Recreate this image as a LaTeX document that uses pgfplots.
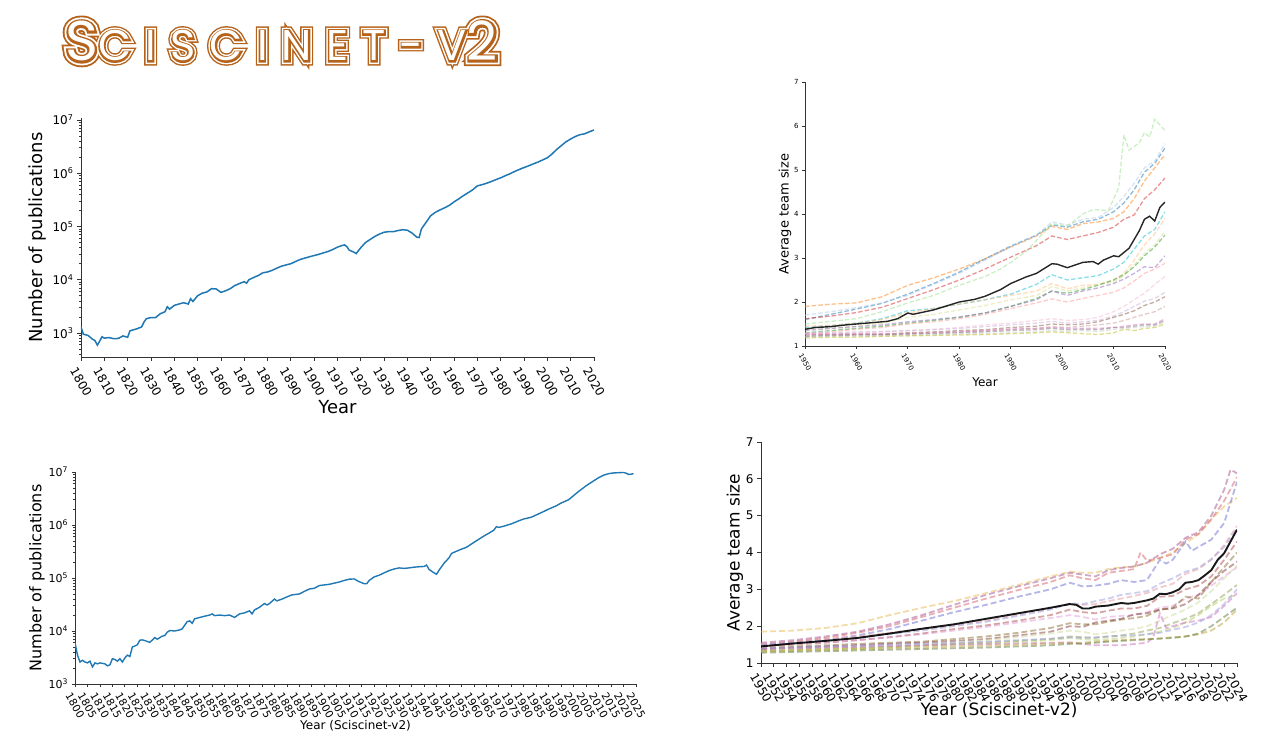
\documentclass[border=0pt]{standalone}
\usepackage{fontspec}
\setmainfont{DejaVu Sans}
\newfontfamily\tfA[FakeBold=21,LetterSpace=33]{Poppins}
\newfontfamily\tfB[FakeBold=14.5,LetterSpace=33]{Poppins}
\newfontfamily\tfC[FakeBold=8,LetterSpace=33]{Poppins}
\newfontfamily\tfD[LetterSpace=33]{Poppins}
\usepackage{pgfplots}
\pgfplotsset{compat=1.18}

\definecolor{tbrown}{HTML}{B5621A}
\definecolor{mplblue}{HTML}{1F77B4}
% tab20
\definecolor{tA}{HTML}{1F77B4}\definecolor{tB}{HTML}{AEC7E8}
\definecolor{tC}{HTML}{FF7F0E}\definecolor{tD}{HTML}{FFBB78}
\definecolor{tE}{HTML}{2CA02C}\definecolor{tF}{HTML}{98DF8A}
\definecolor{tG}{HTML}{D62728}\definecolor{tH}{HTML}{FF9896}
\definecolor{tI}{HTML}{9467BD}\definecolor{tJ}{HTML}{C5B0D5}
\definecolor{tK}{HTML}{8C564B}\definecolor{tL}{HTML}{C49C94}
\definecolor{tM}{HTML}{E377C2}\definecolor{tN}{HTML}{F7B6D2}
\definecolor{tO}{HTML}{7F7F7F}\definecolor{tP}{HTML}{C7C7C7}
\definecolor{tQ}{HTML}{BCBD22}\definecolor{tR}{HTML}{DBDB8D}
\definecolor{tS}{HTML}{17BECF}\definecolor{tT}{HTML}{9EDAE5}
% tab20b
\definecolor{bA}{HTML}{5254A3}\definecolor{bB}{HTML}{6B6ECF}\definecolor{bC}{HTML}{9C9EDE}
\definecolor{bD}{HTML}{637939}\definecolor{bE}{HTML}{8CA252}\definecolor{bF}{HTML}{B5CF6B}\definecolor{bG}{HTML}{CEDB9C}
\definecolor{bH}{HTML}{8C6D31}\definecolor{bI}{HTML}{BD9E39}\definecolor{bJ}{HTML}{E7BA52}
\definecolor{bK}{HTML}{843C39}\definecolor{bL}{HTML}{AD494A}\definecolor{bM}{HTML}{D6616B}\definecolor{bN}{HTML}{E7969C}
\definecolor{bO}{HTML}{A55194}\definecolor{bP}{HTML}{CE6DBD}\definecolor{bQ}{HTML}{DE9ED6}

\newcommand\TT{{\fontsize{56}{56}\selectfont S}CISCINET-V{\fontsize{54}{54}\selectfont 2}}
\newcommand\layer[2]{\node[anchor=base west, inner sep=0pt, text=#2] at (65pt,686pt) {#1\fontsize{43}{43}\selectfont\TT};}

\pgfplotsset{
  myax/.style={scale only axis, anchor=south west,
    axis x line=bottom, axis y line=left,
    axis line style={-, line width=0.9pt, color=black!80},
    tick align=outside, tick style={black!80, line width=0.8pt},
    major tick length=4pt, minor tick length=2.2pt,
    /pgf/number format/assume math mode=true,
    /pgf/number format/1000 sep={},
    enlargelimits=false,
  },
  xl/.style={xlabel style={at={(axis description cs:0.5,#1)}, anchor=center}},
  yl/.style={ylabel style={at={(axis description cs:#1,0.5)}, anchor=center}},
  bl/.style={dash pattern=on 4.5pt off 2.2pt, line width=1.3pt, opacity=0.5, color=#1},
  dl/.style={dash pattern=on 6pt off 3pt, line width=1.8pt, opacity=0.5, color=#1},
}

\begin{document}
\begin{tikzpicture}
\path[use as bounding box] (0pt,0pt) rectangle (1265pt,747pt);

% title
\layer{\tfA}{tbrown}
\layer{\tfB}{white}
\layer{\tfC}{tbrown}
\layer{\tfD}{white}

% ---------------- Panel A ----------------
\begin{axis}[myax, at={(81pt,390pt)}, width=513pt, height=239pt,
  xl=-0.209, yl=-0.0838,
  ymode=log, xmin=1800, xmax=2020, ymin=354, ymax=1.09e7,
  xtick={1800,1810,...,2020},
  ytick={1e3,1e4,1e5,1e6,1e7},
  yticklabels={10\textsuperscript{3},10\textsuperscript{4},10\textsuperscript{5},10\textsuperscript{6},10\textsuperscript{7}},
  minor ytick={400,500,600,700,800,900,2e3,3e3,4e3,5e3,6e3,7e3,8e3,9e3,2e4,3e4,4e4,5e4,6e4,7e4,8e4,9e4,2e5,3e5,4e5,5e5,6e5,7e5,8e5,9e5,2e6,3e6,4e6,5e6,6e6,7e6,8e6,9e6},
  xticklabel style={font=\fontsize{12}{12}\selectfont, inner sep=0pt, anchor=center, yshift=-21pt, rotate=-60},
  yticklabel style={font=\fontsize{12}{12}\selectfont},
  xlabel={\fontsize{18}{18}\selectfont Year},
  ylabel={\fontsize{18}{18}\selectfont Number of publications},
]
\addplot[color=mplblue, line width=1.5pt] coordinates {
(1800,1300)(1801,950)(1803,900)(1805,760)(1806,720)(1807,590)(1808,700)(1809,850)(1810,800)(1812,820)(1814,780)(1816,790)(1818,880)(1820,830)(1821,1100)(1822,1130)(1824,1200)(1826,1300)(1827,1600)(1828,1850)(1830,1950)(1832,1950)(1834,2300)(1836,2500)(1837,3100)(1838,2800)(1840,3300)(1842,3500)(1844,3700)(1846,3500)(1847,4400)(1848,3900)(1850,5000)(1852,5600)(1854,5900)(1856,6800)(1858,6700)(1860,5800)(1862,6200)(1864,6800)(1866,7800)(1868,8500)(1870,9200)(1871,8600)(1872,10000)(1874,11000)(1876,12000)(1878,13500)(1880,14000)(1882,15000)(1884,16500)(1886,18000)(1888,19000)(1890,20000)(1892,22000)(1894,24000)(1896,25500)(1898,27000)(1900,28500)(1902,30000)(1904,32000)(1906,34000)(1908,37000)(1910,41000)(1912,44000)(1913,45000)(1914,42000)(1915,36000)(1917,33000)(1918,31000)(1920,40000)(1922,50000)(1924,57000)(1926,65000)(1928,72000)(1930,78000)(1932,80000)(1934,80000)(1936,84000)(1938,87000)(1940,85000)(1942,75000)(1944,63000)(1945,62000)(1946,90000)(1948,120000)(1950,160000)(1952,185000)(1954,205000)(1956,225000)(1958,250000)(1960,290000)(1962,330000)(1964,380000)(1966,430000)(1968,490000)(1970,580000)(1972,610000)(1974,650000)(1976,700000)(1978,760000)(1980,820000)(1982,900000)(1984,980000)(1986,1080000)(1988,1180000)(1990,1280000)(1992,1380000)(1994,1500000)(1996,1620000)(1998,1780000)(2000,1950000)(2002,2300000)(2004,2800000)(2006,3300000)(2008,3900000)(2010,4400000)(2012,4900000)(2014,5300000)(2016,5500000)(2018,6000000)(2020,6500000)};
\end{axis}

% ---------------- Panel B ----------------
\begin{axis}[myax, at={(805pt,401pt)}, width=360pt, height=264pt,
  xl=-0.136, yl=-0.0556,
  xmin=1950, xmax=2020, ymin=1, ymax=7,
  xtick={1950,1960,...,2020}, ytick={1,2,...,7},
  major tick length=3pt,
  xticklabel style={font=\fontsize{7}{7}\selectfont, inner sep=0pt, anchor=center, yshift=-13pt, rotate=-60},
  yticklabel style={font=\fontsize{7}{7}\selectfont},
  xlabel={\fontsize{12}{12}\selectfont Year},
  ylabel={\fontsize{13}{13}\selectfont Average team size},
]
\addplot[bl=tC] coordinates {(1950,1.90)(1955,1.95)(1960,1.98)(1965,2.12)(1970,2.38)(1975,2.55)(1980,2.75)(1985,2.98)(1990,3.25)(1995,3.50)(1998,3.72)(2001,3.65)(2004,3.78)(2007,3.82)(2010,3.90)(2012,4.05)(2014,4.35)(2016,4.75)(2018,5.05)(2020,5.35)};
\addplot[bl=tA] coordinates {(1950,1.60)(1955,1.72)(1960,1.84)(1965,1.97)(1970,2.18)(1975,2.42)(1980,2.68)(1985,2.98)(1990,3.27)(1995,3.52)(1998,3.75)(2001,3.70)(2004,3.82)(2007,3.88)(2010,4.05)(2012,4.25)(2014,4.55)(2016,4.95)(2018,5.15)(2020,5.50)};
\addplot[bl=tB] coordinates {(1950,1.70)(1955,1.78)(1960,1.87)(1965,1.98)(1970,2.15)(1975,2.40)(1980,2.65)(1985,2.95)(1990,3.25)(1995,3.52)(1998,3.82)(2001,3.75)(2004,3.88)(2007,3.92)(2010,4.15)(2012,4.40)(2014,4.70)(2016,5.05)(2018,5.20)(2020,5.60)};
\addplot[bl=tG] coordinates {(1950,1.62)(1955,1.68)(1960,1.76)(1965,1.88)(1970,2.08)(1975,2.28)(1980,2.50)(1985,2.75)(1990,3.02)(1995,3.28)(1998,3.50)(2001,3.42)(2004,3.50)(2007,3.58)(2010,3.70)(2012,3.88)(2014,3.98)(2016,4.35)(2018,4.55)(2020,4.82)};
\addplot[bl=tF] coordinates {(1950,1.50)(1955,1.56)(1960,1.62)(1965,1.78)(1970,1.98)(1975,2.15)(1980,2.38)(1985,2.58)(1988,2.75)(1990,2.90)(1993,3.15)(1995,3.40)(1998,3.78)(2001,3.72)(2004,4.00)(2006,4.10)(2009,4.08)(2011,4.60)(2012,5.80)(2013,5.45)(2015,5.62)(2016,5.85)(2017,5.75)(2018,6.15)(2020,5.90)};
\addplot[bl=tS] coordinates {(1950,1.42)(1955,1.46)(1960,1.52)(1965,1.62)(1970,1.80)(1975,1.85)(1980,1.95)(1985,2.05)(1990,2.18)(1995,2.40)(1998,2.62)(2001,2.50)(2004,2.55)(2007,2.60)(2010,2.75)(2012,2.90)(2014,3.20)(2016,3.50)(2018,3.65)(2020,4.05)};
\addplot[bl=tD] coordinates {(1950,1.45)(1955,1.47)(1960,1.52)(1965,1.60)(1970,1.75)(1975,1.85)(1980,1.95)(1985,2.05)(1990,2.15)(1995,2.25)(1998,2.42)(2001,2.30)(2004,2.38)(2007,2.40)(2010,2.50)(2012,2.65)(2014,2.95)(2016,3.30)(2018,3.55)(2020,3.90)};
\addplot[bl=tR] coordinates {(1950,1.38)(1955,1.40)(1960,1.45)(1965,1.52)(1970,1.65)(1975,1.72)(1980,1.82)(1985,1.92)(1990,2.05)(1995,2.15)(1998,2.35)(2001,2.25)(2004,2.32)(2007,2.40)(2010,2.45)(2012,2.60)(2014,2.85)(2016,3.10)(2018,3.30)(2020,3.60)};
\addplot[bl=tE] coordinates {(1950,1.30)(1955,1.35)(1960,1.40)(1965,1.45)(1970,1.52)(1975,1.58)(1980,1.65)(1985,1.75)(1990,1.90)(1995,2.08)(1998,2.25)(2001,2.20)(2004,2.28)(2007,2.38)(2010,2.50)(2012,2.62)(2014,2.80)(2016,3.05)(2018,3.25)(2020,3.52)};
\addplot[bl=tI] coordinates {(1950,1.35)(1955,1.40)(1960,1.44)(1965,1.48)(1970,1.55)(1975,1.60)(1980,1.66)(1985,1.75)(1990,1.90)(1995,2.05)(1998,2.25)(2001,2.15)(2004,2.25)(2007,2.32)(2010,2.42)(2012,2.52)(2014,2.65)(2016,2.80)(2018,2.78)(2020,3.05)};
\addplot[bl=tH] coordinates {(1950,1.28)(1955,1.32)(1960,1.38)(1965,1.42)(1970,1.50)(1975,1.55)(1980,1.62)(1985,1.72)(1990,1.85)(1995,1.98)(1998,2.07)(2001,2.00)(2004,2.08)(2007,2.15)(2010,2.22)(2012,2.32)(2014,2.48)(2016,2.65)(2018,2.75)(2020,2.88)};
\addplot[bl=tN] coordinates {(1950,1.28)(1955,1.28)(1960,1.30)(1965,1.32)(1970,1.35)(1975,1.38)(1980,1.42)(1985,1.48)(1990,1.52)(1995,1.58)(1998,1.62)(2001,1.58)(2004,1.60)(2007,1.65)(2010,1.78)(2012,1.90)(2014,2.05)(2016,2.20)(2018,2.40)(2020,2.58)};
\addplot[bl=tJ] coordinates {(1950,1.30)(1955,1.30)(1960,1.32)(1965,1.33)(1970,1.35)(1975,1.37)(1980,1.40)(1985,1.44)(1990,1.48)(1995,1.52)(1998,1.56)(2001,1.52)(2004,1.55)(2007,1.58)(2010,1.68)(2012,1.78)(2014,1.90)(2016,2.02)(2018,2.08)(2020,2.22)};
\addplot[bl=tK] coordinates {(1950,1.25)(1955,1.26)(1960,1.27)(1965,1.27)(1970,1.30)(1975,1.32)(1980,1.35)(1985,1.37)(1990,1.42)(1995,1.45)(1998,1.50)(2001,1.48)(2004,1.50)(2007,1.55)(2010,1.65)(2012,1.72)(2014,1.80)(2016,1.92)(2018,2.00)(2020,2.12)};
\addplot[bl=tL] coordinates {(1950,1.22)(1955,1.23)(1960,1.25)(1965,1.26)(1970,1.28)(1975,1.30)(1980,1.32)(1985,1.34)(1990,1.38)(1995,1.40)(1998,1.44)(2001,1.42)(2004,1.45)(2007,1.48)(2010,1.52)(2012,1.58)(2014,1.65)(2016,1.72)(2018,1.78)(2020,1.90)};
\addplot[bl=tM] coordinates {(1950,1.27)(1955,1.27)(1960,1.27)(1965,1.27)(1970,1.28)(1975,1.30)(1980,1.32)(1985,1.35)(1990,1.38)(1995,1.40)(1998,1.42)(2001,1.40)(2004,1.40)(2007,1.40)(2010,1.42)(2012,1.45)(2014,1.48)(2016,1.50)(2018,1.50)(2020,1.62)};
\addplot[bl=tO] coordinates {(1950,1.22)(1955,1.24)(1960,1.25)(1965,1.25)(1970,1.27)(1975,1.28)(1980,1.30)(1985,1.32)(1990,1.35)(1995,1.37)(1998,1.40)(2001,1.37)(2004,1.38)(2007,1.37)(2010,1.42)(2012,1.42)(2014,1.45)(2016,1.48)(2018,1.48)(2020,1.58)};
\addplot[bl=tP] coordinates {(1950,1.20)(1955,1.22)(1960,1.22)(1965,1.23)(1970,1.24)(1975,1.25)(1980,1.27)(1985,1.28)(1990,1.30)(1995,1.32)(1998,1.35)(2001,1.33)(2004,1.35)(2007,1.33)(2010,1.38)(2012,1.40)(2014,1.42)(2016,1.44)(2018,1.45)(2020,1.55)};
\addplot[bl=tQ] coordinates {(1950,1.18)(1955,1.20)(1960,1.20)(1965,1.22)(1970,1.23)(1975,1.24)(1980,1.25)(1985,1.26)(1990,1.28)(1995,1.30)(1998,1.32)(2001,1.30)(2004,1.28)(2007,1.26)(2010,1.30)(2012,1.38)(2014,1.35)(2016,1.40)(2018,1.42)(2020,1.50)};
\addplot[black, line width=1.4pt, opacity=0.85] coordinates {(1950,1.38)(1952,1.42)(1955,1.44)(1958,1.48)(1960,1.50)(1963,1.53)(1966,1.56)(1968,1.62)(1970,1.75)(1971,1.72)(1975,1.82)(1980,2.00)(1983,2.06)(1985,2.13)(1988,2.28)(1990,2.42)(1993,2.57)(1995,2.65)(1998,2.87)(1999,2.86)(2001,2.78)(2004,2.90)(2006,2.92)(2007,2.86)(2008,2.95)(2010,3.05)(2011,3.03)(2013,3.22)(2014,3.42)(2015,3.62)(2016,3.88)(2017,3.95)(2018,3.84)(2019,4.15)(2020,4.27)};
\end{axis}

% ---------------- Panel C ----------------
\begin{axis}[myax, at={(75pt,63pt)}, width=561pt, height=212pt,
  xl=-0.198, yl=-0.0679,
  ymode=log, xmin=1800, xmax=2025, ymin=1e3, ymax=1e7,
  xtick={1800,1805,...,2025},
  ytick={1e3,1e4,1e5,1e6,1e7},
  yticklabels={10\textsuperscript{3},10\textsuperscript{4},10\textsuperscript{5},10\textsuperscript{6},10\textsuperscript{7}},
  minor ytick={2e3,3e3,4e3,5e3,6e3,7e3,8e3,9e3,2e4,3e4,4e4,5e4,6e4,7e4,8e4,9e4,2e5,3e5,4e5,5e5,6e5,7e5,8e5,9e5,2e6,3e6,4e6,5e6,6e6,7e6,8e6,9e6},
  major tick length=3.5pt,
  xticklabel style={font=\fontsize{10.5}{10.5}\selectfont, inner sep=0pt, anchor=center, yshift=-18pt, rotate=-60},
  yticklabel style={font=\fontsize{11}{11}\selectfont},
  xlabel={\fontsize{12}{12}\selectfont Year (Sciscinet-v2)},
  ylabel={\fontsize{16}{16}\selectfont Number of publications},
]
\addplot[color=mplblue, line width=1.4pt] coordinates {
(1800,6000)(1801,3500)(1802,2600)(1803,2800)(1804,2600)(1805,2500)(1806,2700)(1807,2100)(1808,2500)(1809,2400)(1810,2500)(1812,2400)(1813,2200)(1814,2300)(1815,3000)(1816,2900)(1817,2700)(1818,3000)(1819,2600)(1820,3100)(1821,3500)(1822,3300)(1823,5000)(1824,5200)(1825,5500)(1826,6700)(1827,6800)(1828,6600)(1830,6100)(1832,7500)(1833,7000)(1835,8000)(1836,8200)(1837,9500)(1838,10200)(1840,10000)(1842,10500)(1843,11000)(1845,15000)(1846,15500)(1847,14000)(1848,17000)(1850,18000)(1852,19000)(1854,20000)(1855,21000)(1856,19500)(1858,20000)(1860,19500)(1862,20000)(1864,18000)(1866,21000)(1868,22000)(1870,24000)(1871,21000)(1872,25000)(1874,28000)(1876,33000)(1877,31000)(1878,33000)(1880,40000)(1881,37000)(1883,40000)(1885,44000)(1887,48000)(1890,50000)(1892,56000)(1894,62000)(1896,64000)(1898,72000)(1900,74000)(1902,76000)(1904,80000)(1906,84000)(1908,90000)(1910,95000)(1912,96000)(1914,85000)(1916,78000)(1917,78000)(1918,90000)(1920,105000)(1922,113000)(1924,125000)(1926,138000)(1928,148000)(1930,155000)(1932,152000)(1934,155000)(1936,160000)(1938,163000)(1940,165000)(1941,175000)(1942,145000)(1944,125000)(1945,118000)(1946,140000)(1948,190000)(1950,240000)(1951,290000)(1953,320000)(1955,350000)(1957,380000)(1960,470000)(1962,540000)(1964,620000)(1966,700000)(1968,800000)(1969,930000)(1970,900000)(1972,950000)(1975,1050000)(1978,1200000)(1980,1300000)(1983,1400000)(1985,1550000)(1988,1800000)(1990,2000000)(1993,2300000)(1995,2600000)(1998,3000000)(2000,3600000)(2002,4300000)(2005,5500000)(2008,6800000)(2010,7800000)(2012,8700000)(2014,9300000)(2016,9600000)(2018,9700000)(2020,9800000)(2021,9500000)(2022,9000000)(2023,9100000)(2024,9300000)};
\end{axis}

% ---------------- Panel D ----------------
\begin{axis}[myax, at={(761pt,84pt)}, width=476pt, height=221pt,
  xl=-0.213, yl=-0.0546,
  xmin=1950, xmax=2024, ymin=1, ymax=7,
  xtick={1950,1952,...,2024}, ytick={1,2,...,7},
  xticklabel style={font=\fontsize{12}{12}\selectfont, inner sep=0pt, anchor=center, yshift=-21pt, rotate=-60},
  yticklabel style={font=\fontsize{12}{12}\selectfont},
  xlabel={\fontsize{17}{17}\selectfont Year (Sciscinet-v2)},
  ylabel={\fontsize{17}{17}\selectfont Average team size},
]
\addplot[dl=bJ] coordinates {(1950,1.85)(1955,1.88)(1960,1.95)(1965,2.08)(1970,2.30)(1975,2.50)(1980,2.68)(1985,2.90)(1990,3.12)(1995,3.35)(1998,3.48)(2000,3.45)(2002,3.45)(2004,3.55)(2006,3.60)(2008,3.62)(2010,3.72)(2012,3.85)(2014,4.00)(2016,4.25)(2018,4.50)(2020,4.90)(2022,5.25)(2024,5.48)};
\addplot[dl=bO] coordinates {(1950,1.55)(1955,1.62)(1960,1.72)(1965,1.85)(1970,2.05)(1975,2.30)(1980,2.58)(1985,2.85)(1990,3.08)(1995,3.30)(1998,3.45)(2000,3.40)(2002,3.35)(2004,3.52)(2006,3.58)(2008,3.62)(2010,3.72)(2012,3.95)(2014,4.10)(2016,4.40)(2018,4.55)(2020,5.00)(2022,5.70)(2023,6.25)(2024,6.15)};
\addplot[dl=bM] coordinates {(1950,1.50)(1955,1.58)(1960,1.68)(1965,1.82)(1970,2.00)(1975,2.25)(1980,2.50)(1985,2.75)(1990,2.98)(1995,3.20)(1998,3.38)(2000,3.30)(2002,3.25)(2004,3.45)(2006,3.50)(2008,3.55)(2009,4.00)(2010,3.78)(2012,3.85)(2014,3.95)(2016,4.35)(2018,4.50)(2020,4.90)(2022,5.40)(2024,6.05)};
\addplot[dl=bB] coordinates {(1950,1.48)(1955,1.55)(1960,1.62)(1965,1.75)(1970,1.92)(1975,2.15)(1980,2.38)(1985,2.58)(1990,2.80)(1995,3.00)(1998,3.18)(2000,3.08)(2002,3.10)(2004,3.15)(2006,3.25)(2008,3.20)(2010,3.25)(2012,3.80)(2013,3.70)(2014,3.80)(2016,4.30)(2017,4.05)(2018,4.15)(2020,4.35)(2022,4.80)(2024,5.92)};
\addplot[dl=bN] coordinates {(1950,1.52)(1955,1.58)(1960,1.65)(1965,1.72)(1970,1.82)(1975,1.92)(1980,2.02)(1985,2.15)(1990,2.32)(1995,2.48)(1998,2.60)(2000,2.58)(2002,2.60)(2004,2.68)(2006,2.75)(2008,2.82)(2010,2.90)(2012,3.05)(2014,3.15)(2016,3.42)(2018,3.55)(2020,3.80)(2022,4.20)(2024,4.72)};
\addplot[dl=bC] coordinates {(1950,1.50)(1955,1.55)(1960,1.60)(1965,1.68)(1970,1.78)(1975,1.88)(1980,2.00)(1985,2.12)(1990,2.28)(1995,2.45)(1998,2.62)(2000,2.60)(2002,2.68)(2004,2.75)(2006,2.85)(2008,2.90)(2010,2.95)(2012,3.15)(2014,3.30)(2016,3.48)(2018,3.58)(2020,3.82)(2022,4.15)(2024,4.65)};
\addplot[dl=bL] coordinates {(1950,1.45)(1955,1.50)(1960,1.55)(1965,1.62)(1970,1.70)(1975,1.80)(1980,1.92)(1985,2.02)(1990,2.15)(1995,2.30)(1998,2.45)(2000,2.38)(2002,2.35)(2004,2.42)(2006,2.48)(2008,2.48)(2010,2.55)(2012,2.80)(2014,2.82)(2016,3.00)(2018,3.10)(2020,3.35)(2022,3.80)(2024,4.30)};
\addplot[dl=bQ] coordinates {(1950,1.48)(1955,1.52)(1960,1.56)(1965,1.62)(1970,1.70)(1975,1.78)(1980,1.88)(1985,1.98)(1990,2.10)(1995,2.22)(1998,2.30)(2000,2.25)(2002,2.18)(2004,2.25)(2006,2.28)(2008,2.30)(2010,2.38)(2012,2.50)(2014,2.55)(2016,2.75)(2018,2.85)(2020,3.10)(2022,3.35)(2024,3.60)};
\addplot[dl=bH] coordinates {(1950,1.40)(1955,1.45)(1960,1.48)(1965,1.52)(1970,1.55)(1975,1.58)(1980,1.65)(1985,1.72)(1990,1.82)(1995,1.95)(1998,2.08)(2000,2.05)(2002,2.05)(2004,2.12)(2006,2.18)(2008,2.22)(2010,2.28)(2012,2.45)(2014,2.50)(2016,2.80)(2018,2.75)(2020,3.20)(2022,3.60)(2024,4.00)};
\addplot[dl=bK] coordinates {(1950,1.38)(1955,1.42)(1960,1.45)(1965,1.48)(1970,1.52)(1975,1.55)(1980,1.60)(1985,1.65)(1990,1.75)(1995,1.85)(1998,2.00)(2000,1.98)(2002,2.10)(2004,2.15)(2006,2.20)(2008,2.32)(2010,2.35)(2012,2.45)(2014,2.48)(2016,2.60)(2018,2.85)(2020,3.20)(2022,3.50)(2024,3.75)};
\addplot[dl=bG] coordinates {(1950,1.30)(1955,1.33)(1960,1.35)(1965,1.38)(1970,1.42)(1975,1.48)(1980,1.55)(1985,1.62)(1990,1.70)(1995,1.80)(1998,1.88)(2000,1.85)(2002,1.78)(2004,1.82)(2006,1.88)(2008,1.92)(2010,2.00)(2012,2.15)(2014,2.30)(2016,2.45)(2018,2.65)(2020,2.95)(2022,3.30)(2024,3.65)};
\addplot[dl=bE] coordinates {(1950,1.35)(1955,1.37)(1960,1.40)(1965,1.42)(1970,1.45)(1975,1.48)(1980,1.52)(1985,1.56)(1990,1.60)(1995,1.65)(1998,1.72)(2000,1.70)(2002,1.68)(2004,1.72)(2006,1.75)(2008,1.80)(2010,1.88)(2012,1.95)(2014,2.08)(2016,2.20)(2018,2.35)(2020,2.60)(2022,2.85)(2024,3.12)};
\addplot[dl=bF] coordinates {(1950,1.33)(1955,1.35)(1960,1.38)(1965,1.40)(1970,1.43)(1975,1.46)(1980,1.50)(1985,1.53)(1990,1.57)(1995,1.62)(1998,1.68)(2000,1.65)(2002,1.62)(2004,1.65)(2006,1.68)(2008,1.72)(2010,1.78)(2012,1.85)(2014,1.95)(2016,2.10)(2018,2.30)(2020,2.55)(2022,2.75)(2024,2.85)};
\addplot[dl=bP] coordinates {(1950,1.38)(1960,1.42)(1970,1.46)(1980,1.50)(1990,1.53)(1998,1.56)(2000,1.52)(2002,1.48)(2006,1.48)(2010,1.55)(2011,1.70)(2012,2.35)(2013,1.95)(2014,2.00)(2016,2.10)(2018,2.15)(2020,2.25)(2022,2.55)(2024,2.90)};
\addplot[dl=bC] coordinates {(1950,1.40)(1955,1.42)(1960,1.45)(1965,1.47)(1970,1.50)(1975,1.52)(1980,1.55)(1985,1.58)(1990,1.62)(1995,1.66)(1998,1.70)(2000,1.68)(2002,1.70)(2004,1.72)(2006,1.74)(2008,1.75)(2010,1.78)(2012,1.82)(2014,1.90)(2016,1.98)(2018,2.10)(2020,2.30)(2022,2.60)(2024,3.00)};
\addplot[dl=bI] coordinates {(1950,1.32)(1955,1.34)(1960,1.36)(1965,1.38)(1970,1.40)(1975,1.42)(1980,1.45)(1985,1.47)(1990,1.50)(1995,1.53)(1998,1.55)(2000,1.55)(2002,1.58)(2004,1.60)(2006,1.62)(2008,1.64)(2010,1.65)(2012,1.67)(2014,1.70)(2016,1.72)(2018,1.78)(2020,1.88)(2022,2.10)(2024,2.45)};
\addplot[dl=bD] coordinates {(1950,1.28)(1955,1.30)(1960,1.32)(1965,1.34)(1970,1.36)(1975,1.38)(1980,1.40)(1985,1.42)(1990,1.45)(1995,1.48)(1998,1.52)(2000,1.52)(2002,1.55)(2004,1.58)(2006,1.60)(2008,1.62)(2010,1.64)(2012,1.66)(2014,1.68)(2016,1.72)(2018,1.80)(2020,2.00)(2022,2.25)(2024,2.50)};
\addplot[black, line width=1.9pt, opacity=0.9] coordinates {(1950,1.45)(1955,1.53)(1960,1.60)(1965,1.68)(1970,1.80)(1975,1.93)(1980,2.05)(1985,2.20)(1990,2.35)(1995,2.50)(1998,2.60)(1999,2.58)(2000,2.48)(2001,2.48)(2002,2.53)(2004,2.56)(2006,2.63)(2007,2.61)(2008,2.63)(2010,2.70)(2011,2.75)(2012,2.88)(2013,2.87)(2014,2.92)(2015,3.00)(2016,3.18)(2017,3.20)(2018,3.25)(2019,3.38)(2020,3.52)(2021,3.80)(2022,3.98)(2023,4.30)(2024,4.62)};
\end{axis}
\end{tikzpicture}
\end{document}
